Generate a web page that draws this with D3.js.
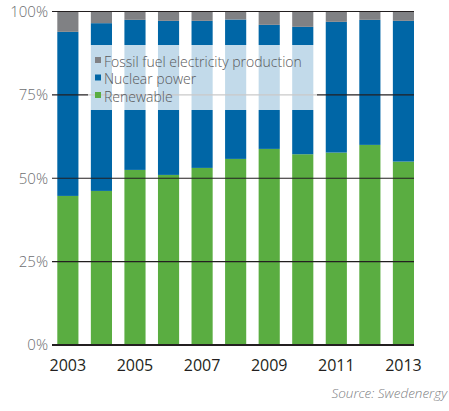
<!DOCTYPE html>
<html>
<head>
<meta charset="utf-8">
<script src="https://cdn.jsdelivr.net/npm/d3@7"></script>
<style>
  body { margin: 0; background: #fff; }
  text { font-family: 'Open Sans', 'DejaVu Sans', sans-serif; }
</style>
</head>
<body>
<div id="chart"></div>
<script>
const years = [2003, 2004, 2005, 2006, 2007, 2008, 2009, 2010, 2011, 2012, 2013];
const renewable = [44.7, 46.2, 52.5, 51.0, 53.1, 55.8, 58.8, 57.2, 57.7, 60.0, 55.0];
const nuclear = [49.2, 50.3, 45.0, 46.2, 44.1, 41.8, 37.2, 38.2, 39.2, 37.5, 42.2];
const fossil = years.map((y, i) => 100 - renewable[i] - nuclear[i]);
const seriesKeys = ['renewable', 'nuclear', 'fossil'];
const legendLabels = ['Fossil fuel electricity production', 'Nuclear power', 'Renewable'];
const yTicks = [0, 25, 50, 75, 100];
const yearLabels = [2003, 2005, 2007, 2009, 2011, 2013];

const width = 449;
const height = 411;
const margin = { top: 11.5, right: 35, bottom: 66, left: 52 };

const color = d3.scaleOrdinal()
  .domain(seriesKeys)
  .range(['#5aad41', '#0066a6', '#808184']);

const svg = d3.select('#chart').append('svg')
  .attr('width', width)
  .attr('height', height);

const rows = years.map((y, i) => ({
  year: y, renewable: renewable[i], nuclear: nuclear[i], fossil: fossil[i],
}));

const x = d3.scaleBand()
  .domain(years)
  .range([57.3, width - margin.right])
  .paddingInner(0.37)
  .paddingOuter(0);

const y = d3.scaleLinear()
  .domain([0, 100])
  .range([height - margin.bottom, margin.top]);

const stacked = d3.stack().keys(seriesKeys)(rows);

svg.append('g')
  .selectAll('g')
  .data(stacked)
  .join('g')
  .attr('fill', d => color(d.key))
  .selectAll('rect')
  .data(d => d)
  .join('rect')
  .attr('x', d => x(d.data.year))
  .attr('width', x.bandwidth())
  .attr('y', d => y(d[1]))
  .attr('height', d => y(d[0]) - y(d[1]));

// gridlines on top of the bars
svg.append('g')
  .selectAll('line')
  .data(yTicks)
  .join('line')
  .attr('x1', margin.left)
  .attr('x2', width - margin.right)
  .attr('y1', d => y(d))
  .attr('y2', d => y(d))
  .attr('stroke', '#231f20')
  .attr('stroke-width', d => (d === 0 ? 2 : 1.2));

svg.append('g')
  .selectAll('text')
  .data(yTicks)
  .join('text')
  .attr('x', 48)
  .attr('y', d => y(d))
  .attr('dy', '0.36em')
  .attr('text-anchor', 'end')
  .attr('fill', '#6d6e71')
  .style('font-size', '15px')
  .style('font-weight', 300)
  .text(d => `${d}%`);

svg.append('g')
  .selectAll('text')
  .data(yearLabels)
  .join('text')
  .attr('x', d => x(d) + x.bandwidth() / 2)
  .attr('y', 371)
  .attr('text-anchor', 'middle')
  .attr('fill', '#231f20')
  .style('font-size', '16px')
  .style('font-weight', 400)
  .text(d => d);

// legend with a white veil over the bars
const legend = svg.append('g');

legend.append('rect')
  .attr('x', 88)
  .attr('y', 45)
  .attr('width', 229)
  .attr('height', 65)
  .attr('fill', '#fff')
  .attr('opacity', 0.76);

const legendColors = ['fossil', 'nuclear', 'renewable'];

const item = legend.selectAll('g')
  .data(legendLabels)
  .join('g')
  .attr('transform', (d, i) => `translate(95,${62 + i * 17.5})`);

item.append('rect')
  .attr('x', 0)
  .attr('y', -5)
  .attr('width', 6)
  .attr('height', 6)
  .attr('fill', (d, i) => color(legendColors[i]));

item.append('text')
  .attr('x', 9)
  .attr('y', 0)
  .attr('dy', '0.33em')
  .attr('fill', '#58595b')
  .style('font-size', '14px')
  .style('font-weight', 300)
  .text(d => d);

svg.append('text')
  .attr('x', 447)
  .attr('y', 398)
  .attr('text-anchor', 'end')
  .attr('fill', '#808184')
  .style('font-size', '13.5px')
  .style('font-style', 'italic')
  .style('font-weight', 300)
  .text('Source: Swedenergy');
</script>
</body>
</html>
